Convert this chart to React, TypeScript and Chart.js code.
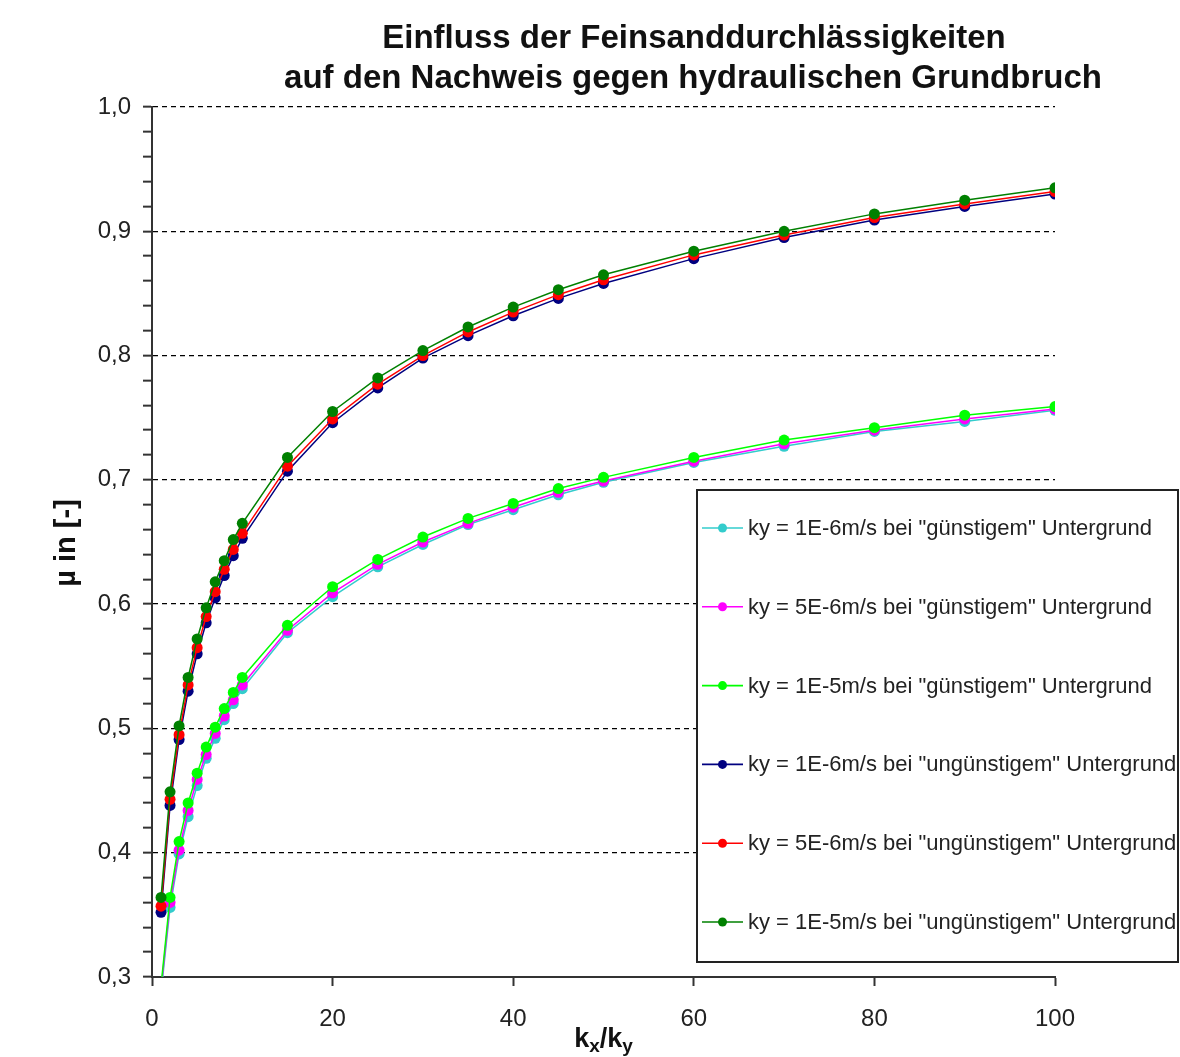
import React, { useEffect, useRef } from 'react';
import { Chart, registerables } from 'chart.js';

Chart.register(...registerables);

const titleLines = ['Einfluss der Feinsanddurchlässigkeiten', 'auf den Nachweis gegen hydraulischen Grundbruch'];
const yAxisLabel = 'µ in [-]';

const xValues = [1, 2, 3, 4, 5, 6, 7, 8, 9, 10, 15, 20, 25, 30, 35, 40, 45, 50, 60, 70, 80, 90, 100];

const seriesLabels = [
  'ky = 1E-6m/s bei "günstigem" Untergrund',
  'ky = 5E-6m/s bei "günstigem" Untergrund',
  'ky = 1E-5m/s bei "günstigem" Untergrund',
  'ky = 1E-6m/s bei "ungünstigem" Untergrund',
  'ky = 5E-6m/s bei "ungünstigem" Untergrund',
  'ky = 1E-5m/s bei "ungünstigem" Untergrund',
];

const seriesColors = ['#33CCCC', '#FF00FF', '#00FF00', '#000080', '#FF0000', '#008000'];

const guenstig1E6 = [0.287, 0.356, 0.399, 0.429, 0.454, 0.476, 0.492, 0.507, 0.520, 0.532, 0.577, 0.606, 0.630, 0.648, 0.664, 0.676, 0.688, 0.698, 0.714, 0.727, 0.739, 0.747, 0.756];
const guenstig5E6 = [0.290, 0.360, 0.402, 0.434, 0.459, 0.479, 0.496, 0.510, 0.523, 0.535, 0.579, 0.609, 0.632, 0.650, 0.665, 0.678, 0.690, 0.699, 0.715, 0.729, 0.740, 0.749, 0.757];
const guenstig1E5 = [0.293, 0.364, 0.409, 0.440, 0.464, 0.485, 0.501, 0.516, 0.529, 0.541, 0.583, 0.614, 0.636, 0.654, 0.669, 0.681, 0.693, 0.702, 0.718, 0.732, 0.742, 0.752, 0.759];
const unguenstig1E6 = [0.352, 0.438, 0.491, 0.530, 0.560, 0.585, 0.605, 0.623, 0.639, 0.653, 0.707, 0.746, 0.774, 0.798, 0.816, 0.832, 0.846, 0.858, 0.878, 0.895, 0.909, 0.920, 0.930];
const unguenstig5E6 = [0.357, 0.443, 0.495, 0.535, 0.565, 0.590, 0.610, 0.628, 0.644, 0.657, 0.711, 0.749, 0.777, 0.800, 0.819, 0.835, 0.849, 0.861, 0.881, 0.897, 0.911, 0.922, 0.932];
const unguenstig1E5 = [0.364, 0.449, 0.502, 0.541, 0.572, 0.597, 0.618, 0.635, 0.652, 0.665, 0.718, 0.755, 0.782, 0.804, 0.823, 0.839, 0.853, 0.865, 0.884, 0.900, 0.914, 0.925, 0.935];

const seriesValues = [guenstig1E6, guenstig5E6, guenstig1E5, unguenstig1E6, unguenstig5E6, unguenstig1E5];

const yMin = 0.3;
const yMax = 1.0;
const yStep = 0.02;
const xMin = 0;
const xMax = 100;
const xStep = 20;

const FONT = '"Liberation Sans", Arial, Helvetica, sans-serif';

const isMajor = (v: number) => Math.abs(v * 10 - Math.round(v * 10)) < 1e-6;

const decorPlugin = {
  id: 'decor',
  afterDraw(chart: any) {
    const ctx = chart.ctx as CanvasRenderingContext2D;
    const area = chart.chartArea;
    ctx.save();
    // Title
    ctx.fillStyle = '#111';
    ctx.font = `bold 33px ${FONT}`;
    ctx.textAlign = 'center';
    ctx.textBaseline = 'middle';
    ctx.fillText(titleLines[0], 694, 39);
    ctx.fillText(titleLines[1], 693, 79);

    // Y axis label
    ctx.save();
    ctx.translate(67, 543);
    ctx.rotate(-Math.PI / 2);
    ctx.font = `bold 29px ${FONT}`;
    ctx.textAlign = 'center';
    ctx.textBaseline = 'middle';
    ctx.fillText(yAxisLabel, 0, 0);
    ctx.restore();

    // X axis label: k_x/k_y
    const cx = (area.left + area.right) / 2;
    const base = 1047;
    const bigF = `bold 27px ${FONT}`;
    const smallF = `bold 19px ${FONT}`;
    const parts: [string, string, number][] = [
      ['k', bigF, 0],
      ['x', smallF, 5],
      ['/k', bigF, 0],
      ['y', smallF, 5],
    ];
    let total = 0;
    for (const [t, f] of parts) {
      ctx.font = f;
      total += ctx.measureText(t).width;
    }
    let px = cx - total / 2;
    ctx.textAlign = 'left';
    ctx.textBaseline = 'alphabetic';
    for (const [t, f, dy] of parts) {
      ctx.font = f;
      ctx.fillText(t, px, base + dy);
      px += ctx.measureText(t).width;
    }

    // Legend box
    const lx = 697, ly = 490, lw = 481, lh = 472;
    ctx.fillStyle = '#fff';
    ctx.fillRect(lx, ly, lw, lh);
    ctx.strokeStyle = '#222';
    ctx.lineWidth = 2;
    ctx.strokeRect(lx, ly, lw, lh);
    const itemY0 = 528;
    const itemGap = 78.8;
    chart.data.datasets.forEach((ds: any, i: number) => {
      const y = itemY0 + i * itemGap;
      ctx.strokeStyle = ds.borderColor;
      ctx.lineWidth = 1.6;
      ctx.beginPath();
      ctx.moveTo(702, y);
      ctx.lineTo(743, y);
      ctx.stroke();
      ctx.fillStyle = ds.borderColor;
      ctx.beginPath();
      ctx.arc(722.5, y, 4.5, 0, Math.PI * 2);
      ctx.fill();
      ctx.fillStyle = '#222';
      ctx.font = `22px ${FONT}`;
      ctx.textAlign = 'left';
      ctx.textBaseline = 'middle';
      ctx.fillText(ds.label, 748, y + 1);
    });
    ctx.restore();
  },
};

export default function App() {
  const canvasRef = useRef<HTMLCanvasElement | null>(null);

  useEffect(() => {
    if (!canvasRef.current) return;
    const datasets = seriesValues.map((vals, i) => ({
      label: seriesLabels[i],
      data: xValues.map((x, j) => ({ x, y: vals[j] })),
      borderColor: seriesColors[i],
      backgroundColor: seriesColors[i],
      pointBackgroundColor: seriesColors[i],
      pointBorderColor: seriesColors[i],
      pointBorderWidth: 0,
      pointRadius: 5.5,
      borderWidth: 1.5,
      tension: 0,
      fill: false,
      order: seriesValues.length - 1 - i,
    }));

    const chart = new Chart(canvasRef.current, {
      type: 'line',
      data: { datasets },
      plugins: [decorPlugin],
      options: {
        animation: false,
        responsive: true,
        maintainAspectRatio: false,
        layout: { padding: { top: 107, right: 125, left: 0, bottom: 0 } },
        plugins: {
          legend: { display: false },
          title: { display: false },
          tooltip: { enabled: false },
        },
        scales: {
          x: {
            type: 'linear',
            min: xMin,
            max: xMax,
            afterFit: (s: any) => {
              s.height = 80;
            },
            ticks: {
              stepSize: xStep,
              color: '#222',
              font: { family: FONT, size: 24 },
              padding: 19,
              maxRotation: 0,
            },
            grid: {
              drawOnChartArea: false,
              drawTicks: true,
              tickLength: 9,
              tickColor: '#333',
              tickWidth: 2,
            },
            border: { display: true, color: '#333', width: 2 },
          },
          y: {
            type: 'linear',
            min: yMin,
            max: yMax,
            afterFit: (s: any) => {
              s.width = 152;
            },
            ticks: {
              stepSize: yStep,
              autoSkip: false,
              color: '#222',
              font: { family: FONT, size: 24 },
              padding: 12,
              callback: (v: any) => (isMajor(Number(v)) ? Number(v).toFixed(1).replace('.', ',') : ''),
            },
            grid: {
              color: (c: any) =>
                c.tick && isMajor(c.tick.value) && c.tick.value > yMin + 1e-6 ? '#000' : 'rgba(0,0,0,0)',
              lineWidth: 1.3,
              drawTicks: true,
              tickLength: 9,
              tickColor: '#333',
              tickWidth: 2,
            },
            border: { display: true, color: '#333', width: 2, dash: [5, 4] },
          },
        },
      },
    });
    return () => chart.destroy();
  }, []);

  return (
    <div style={{ position: 'fixed', left: 0, top: 0, width: 1180, height: 1057, background: '#fff' }}>
      <canvas ref={canvasRef} />
    </div>
  );
}
